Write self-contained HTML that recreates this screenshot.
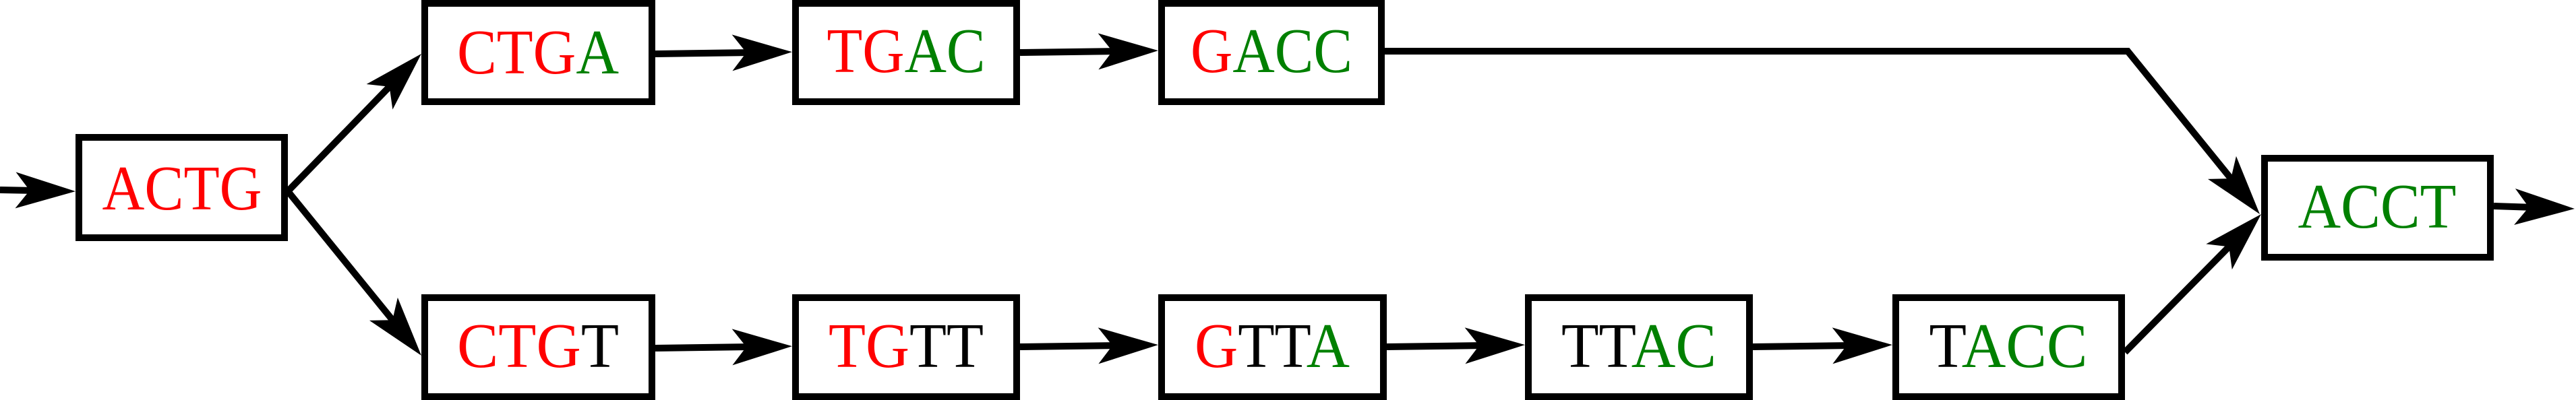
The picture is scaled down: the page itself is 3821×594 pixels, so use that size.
<!DOCTYPE html>
<html><head><meta charset="utf-8"><style>html,body{margin:0;padding:0;background:#fff}svg{display:block}</style></head>
<body>
<svg width="3821" height="594" viewBox="0 0 3821 594" xmlns="http://www.w3.org/2000/svg">
<defs>
<marker id="a" markerUnits="userSpaceOnUse" orient="auto" markerWidth="100" markerHeight="60" refX="35" refY="30" overflow="visible">
<path d="M95,30 L6,3 L27,30 L6,57 Z" fill="#000"/>
</marker>
</defs>
<g fill="#fff" stroke="#000" stroke-width="10">
<rect x="117" y="204" width="305" height="149"/>
<rect x="630" y="5" width="337" height="146"/>
<rect x="1180" y="5" width="328" height="146"/>
<rect x="1723" y="5" width="326" height="146"/>
<rect x="630" y="442" width="337" height="147"/>
<rect x="1180" y="442" width="328" height="147"/>
<rect x="1723" y="442" width="329" height="147"/>
<rect x="2267" y="442" width="328" height="147"/>
<rect x="2812" y="442" width="335" height="147"/>
<rect x="3359" y="235" width="335" height="147"/>
</g>
<g stroke="#000" stroke-width="10" fill="none" marker-end="url(#a)">
<line x1="0" y1="282" x2="52" y2="283"/>
<line x1="427" y1="284" x2="583.2" y2="123"/>
<line x1="427" y1="284" x2="587.2" y2="481.4"/>
<line x1="972" y1="80" x2="1115" y2="78"/>
<line x1="1513" y1="78" x2="1658" y2="76"/>
<line x1="972" y1="517" x2="1115" y2="515"/>
<line x1="1513" y1="515" x2="1658" y2="513"/>
<line x1="2057" y1="515" x2="2202" y2="513"/>
<line x1="2600" y1="515" x2="2747" y2="513"/>
<polyline points="2054,76 3156,76 3314.2,271.4"/>
<line x1="3152" y1="523" x2="3311.9" y2="360.7"/>
<line x1="3699" y1="306" x2="3759" y2="308"/>
</g>
<g font-family="Liberation Serif, DejaVu Serif, serif" font-size="94" text-anchor="middle">
<text x="270" y="311" textLength="237" lengthAdjust="spacingAndGlyphs"><tspan fill="#f00">ACTG</tspan></text>
<text x="798" y="109" textLength="240" lengthAdjust="spacingAndGlyphs"><tspan fill="#f00">CTG</tspan><tspan fill="#008000">A</tspan></text>
<text x="1344" y="107" textLength="235" lengthAdjust="spacingAndGlyphs"><tspan fill="#f00">TG</tspan><tspan fill="#008000">AC</tspan></text>
<text x="1886" y="107" textLength="240" lengthAdjust="spacingAndGlyphs"><tspan fill="#f00">G</tspan><tspan fill="#008000">ACC</tspan></text>
<text x="798" y="545" textLength="240" lengthAdjust="spacingAndGlyphs"><tspan fill="#f00">CTG</tspan><tspan fill="#000">T</tspan></text>
<text x="1344" y="545" textLength="230" lengthAdjust="spacingAndGlyphs"><tspan fill="#f00">TG</tspan><tspan fill="#000">TT</tspan></text>
<text x="1887" y="545" textLength="230" lengthAdjust="spacingAndGlyphs"><tspan fill="#f00">G</tspan><tspan fill="#000">TT</tspan><tspan fill="#008000">A</tspan></text>
<text x="2431" y="545" textLength="230" lengthAdjust="spacingAndGlyphs"><tspan fill="#000">TT</tspan><tspan fill="#008000">AC</tspan></text>
<text x="2979" y="545" textLength="235" lengthAdjust="spacingAndGlyphs"><tspan fill="#000">T</tspan><tspan fill="#008000">ACC</tspan></text>
<text x="3526" y="338" textLength="235" lengthAdjust="spacingAndGlyphs"><tspan fill="#008000">ACCT</tspan></text>
</g>
</svg>
</body></html>
